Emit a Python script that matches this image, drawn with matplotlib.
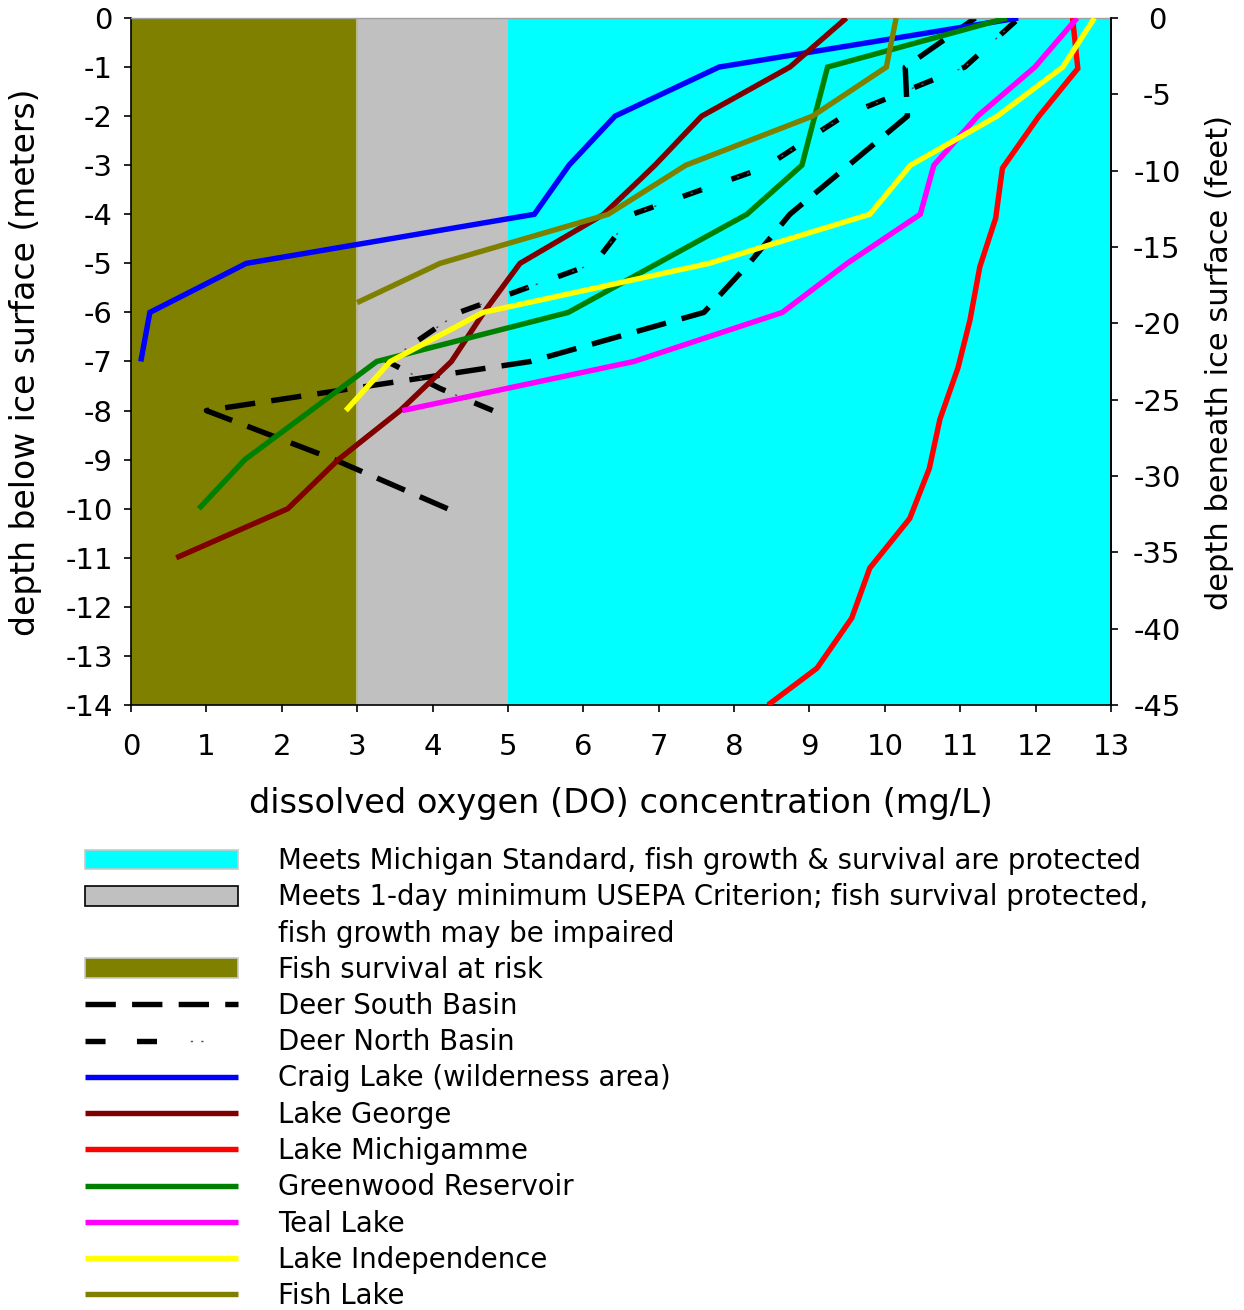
import matplotlib
matplotlib.use("Agg")
import matplotlib.pyplot as plt
from matplotlib.patches import Patch
from matplotlib.legend_handler import HandlerTuple

plt.rcParams['font.family'] = ['DejaVu Sans']
plt.rcParams['axes.unicode_minus'] = False

# ---------------- data (DO mg/L, depth m) ----------------
deer_south_do = [4.2, 2.7, 1.0, 5.3, 7.6, 8.2, 8.74, 10.3, 10.27, 11.2]
deer_south_depth = [-10, -9, -8, -7, -6, -5, -4, -2, -1, 0]

deer_north_do = [4.8, 4.1, 3.4, 4.35, 6.15, 6.65, 8.4, 9.45, 11.06, 11.78]
deer_north_depth = [-8.0, -7.55, -7.0, -6.0, -5.0, -4.0, -3.05, -2.0, -1.0, 0]

craig_do = [0.13, 0.25, 1.53, 5.35, 5.81, 6.42, 7.8, 11.77]
craig_depth = [-7, -6, -5, -4, -3, -2, -1, 0]

george_do = [0.6, 2.08, 2.75, 3.57, 4.25, 4.68, 5.16, 6.27, 6.95, 7.57, 8.74, 9.49]
george_depth = [-11, -10, -9, -8, -7, -6, -5, -4, -3, -2, -1, 0]

michigamme_do = [8.45, 9.1, 9.56, 9.8, 10.33, 10.59, 10.73, 10.97, 11.13, 11.26,
                 11.47, 11.56, 12.04, 12.56, 12.49]
michigamme_depth = [-14, -13.25, -12.23, -11.21, -10.2, -9.18, -8.18, -7.13, -6.15,
                    -5.07, -4.08, -3.06, -2.01, -1.03, 0]

greenwood_do = [0.9, 1.51, 3.26, 5.8, 8.17, 8.9, 9.24, 11.62]
greenwood_depth = [-10, -9, -7, -6, -4, -3, -1, 0]

teal_do = [3.6, 6.67, 8.64, 9.5, 10.47, 10.65, 11.23, 11.99, 12.55]
teal_depth = [-8, -7, -6, -5, -4, -3, -2, -1, 0]

independence_do = [2.85, 3.44, 4.67, 7.67, 9.8, 10.34, 11.49, 12.36, 12.78]
independence_depth = [-8, -7, -6, -5, -4, -3, -2, -1, 0]

fish_do = [3.0, 4.1, 6.33, 7.36, 9.04, 10.02, 10.15]
fish_depth = [-5.8, -5, -4, -3, -2, -1, 0]

x_ticks = list(range(0, 14))
y_ticks_m = list(range(0, -15, -1))
y_ticks_ft = list(range(0, -50, -5))

zone_edges = [0, 3, 5, 13]
zone_colors = ['#808000', '#C0C0C0', '#00FFFF']
zone_labels = ['Fish survival at risk',
               'Meets 1-day minimum USEPA Criterion; fish survival protected,',
               'Meets Michigan Standard, fish growth & survival are protected']

# ---------------- figure ----------------
W, H = 1244, 1310
fig = plt.figure(figsize=(W / 100, H / 100), dpi=100)
L, R, T, B = 131, 1111, 18, 705
ax = fig.add_axes([L / W, 1 - B / H, (R - L) / W, (B - T) / H])

for i in range(3):
    ax.axvspan(zone_edges[i], zone_edges[i + 1], color=zone_colors[i], lw=0, zorder=0)
ax.axvline(3, color='#B8B888', lw=1.5, zorder=0.5)

LW = 3.9
ds_line, = ax.plot(deer_south_do, deer_south_depth, color='black', lw=LW,
                   linestyle=(0, (5.6, 3.0)), zorder=2)
# Deer North: black dashes with faint dots in between
DN_D, DN_G = 3.7, 5.8
dn_dash, = ax.plot(deer_north_do, deer_north_depth, color='black', lw=LW,
                   linestyle=(0, (DN_D, DN_G)), zorder=2)
thin = 1.0
per = (DN_D + DN_G) * LW
d_end = DN_D * LW
g = DN_G * LW
p1 = d_end + g / 3
dot = 1.6
pat = [dot / thin, (g / 3 - dot) / thin, dot / thin, (per - g / 3 - 2 * dot) / thin]
dn_dot, = ax.plot(deer_north_do, deer_north_depth, color='#505050', lw=thin,
                  linestyle=((per - p1) / thin, pat), zorder=2)

series = [
    (craig_do, craig_depth, '#0000FF', 'Craig Lake (wilderness area)'),
    (george_do, george_depth, '#800000', 'Lake George'),
    (michigamme_do, michigamme_depth, '#FF0000', 'Lake Michigamme'),
    (greenwood_do, greenwood_depth, '#008000', 'Greenwood Reservoir'),
    (teal_do, teal_depth, '#FF00FF', 'Teal Lake'),
    (independence_do, independence_depth, '#FFFF00', 'Lake Independence'),
    (fish_do, fish_depth, '#808000', 'Fish Lake'),
]
line_handles = []
for k, (xs, ys, c, lab) in enumerate(series):
    ln, = ax.plot(xs, ys, color=c, lw=LW, solid_capstyle='butt',
                  solid_joinstyle='miter', zorder=3 + k * 0.01)
    line_handles.append((ln, lab))

ax.set_xlim(0, 13)
ax.set_ylim(-14, 0)
ax.set_xticks(x_ticks)
ax.set_yticks(y_ticks_m)
ax.tick_params(axis='both', direction='out', length=5, width=1.2, labelsize=21)
ax.tick_params(axis='x', pad=15)
ax.tick_params(axis='y', pad=8)
for s in ['left', 'bottom']:
    ax.spines[s].set_linewidth(1.2)
ax.spines['top'].set_color('#A0A0A0')
ax.spines['top'].set_linewidth(1.0)
ax.spines['right'].set_linewidth(1.2)

ax2 = ax.twinx()
ax2.set_ylim(-45, 0)
ax2.set_yticks(y_ticks_ft)
ax2.tick_params(axis='y', direction='out', length=5, width=1.2, labelsize=21, pad=28)
for lbl in ax2.get_yticklabels():
    lbl.set_ha('center')
ax2.spines['top'].set_visible(False)
ax2.spines['left'].set_visible(False)
ax2.spines['bottom'].set_visible(False)
ax2.spines['right'].set_linewidth(1.2)

fig.text(621 / W, 1 - 803 / H, 'dissolved oxygen (DO) concentration (mg/L)',
         ha='center', va='center', fontsize=24.2)
fig.text(26 / W, 1 - 362 / H, 'depth below ice surface (meters)',
         ha='center', va='center', rotation=90, fontsize=23.8)
fig.text(1219 / W, 1 - 363 / H, 'depth beneath ice surface (feet)',
         ha='center', va='center', rotation=90, fontsize=22)

# ---------------- legend ----------------
handles = [
    Patch(facecolor=zone_colors[2], edgecolor='#C8C8C8', lw=1.2),
    Patch(facecolor=zone_colors[1], edgecolor='black', lw=1.2),
    Patch(facecolor='none', edgecolor='none'),
    Patch(facecolor=zone_colors[0], edgecolor='#C8C8C8', lw=1.2),
    ds_line,
    (dn_dash, dn_dot),
] + [h for h, _ in line_handles]
labels = [zone_labels[2], zone_labels[1], 'fish growth may be impaired', zone_labels[0],
          'Deer South Basin', 'Deer North Basin'] + [lab for _, lab in line_handles]

LFS = 19.8
lfs_px = LFS * 100 / 72
fig.legend(handles, labels, loc='upper left', bbox_to_anchor=(85 / W, 1 - 847 / H),
           frameon=False, fontsize=LFS, handlelength=153 / lfs_px, handleheight=20 / lfs_px,
           handletextpad=40 / lfs_px, labelspacing=0.30, borderpad=0, borderaxespad=0,
           handler_map={tuple: HandlerTuple(ndivide=None, pad=0)})

fig.savefig('out.png', dpi=100)
